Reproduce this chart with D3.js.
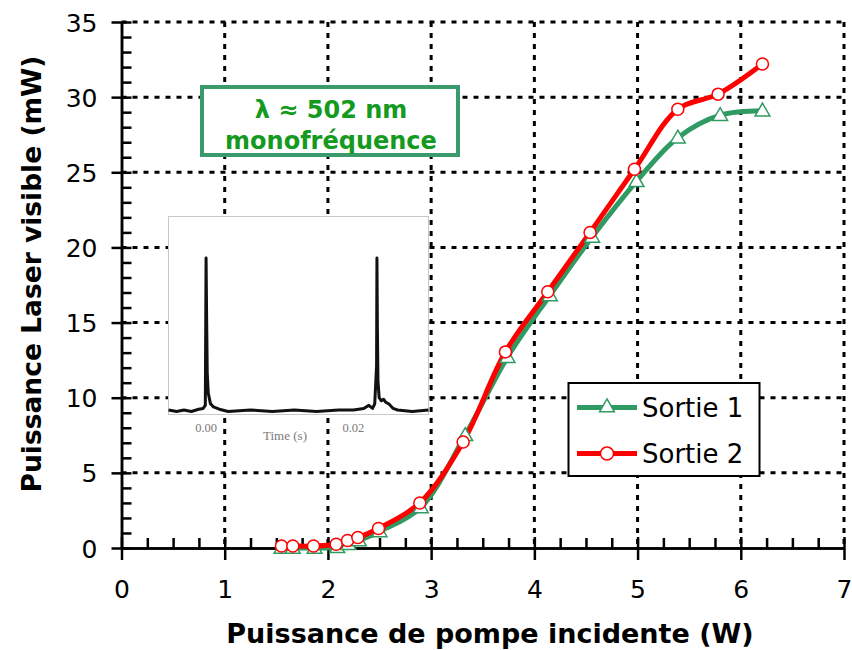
<!DOCTYPE html>
<html>
<head>
<meta charset="utf-8">
<script src="https://cdn.jsdelivr.net/npm/d3@7/dist/d3.min.js"></script>
<style>
  html, body { margin: 0; padding: 0; background: #fff; }
  svg { display: block; }
</style>
</head>
<body>
<svg id="chart" width="852" height="650"></svg>
<script>
// Pump power (W) and visible laser output (mW) for the two outputs
const pumpSortie1 = [1.55, 1.66, 1.87, 2.09, 2.20, 2.30, 2.50, 2.90, 3.33, 3.74, 4.15, 4.56, 4.99, 5.39, 5.80, 6.21];
const powerSortie1 = [0.0, 0.0, 0.0, 0.05, 0.25, 0.5, 1.1, 2.7, 7.5, 12.7, 16.8, 20.7, 24.4, 27.3, 28.8, 29.1];
const pumpSortie2 = [1.55, 1.66, 1.86, 2.08, 2.19, 2.29, 2.49, 2.89, 3.31, 3.72, 4.13, 4.54, 4.97, 5.39, 5.78, 6.21];
const powerSortie2 = [0.13, 0.13, 0.13, 0.25, 0.5, 0.7, 1.3, 3.0, 7.05, 13.05, 17.05, 21.0, 25.2, 29.2, 30.2, 32.2];

const seriesNames = ["Sortie 1", "Sortie 2"];
const xTicks = [0, 1, 2, 3, 4, 5, 6, 7];
const yTicks = [0, 5, 10, 15, 20, 25, 30, 35];

// Oscilloscope trace shown in the inset (time in s, normalised amplitude)
const insetTime = [-0.0051, -0.004, -0.003, -0.002, -0.001, -0.0004, -0.0001, 0.0, 0.00008, 0.00016, 0.0003, 0.0006, 0.001, 0.0018, 0.003, 0.006, 0.009, 0.012, 0.015, 0.018, 0.020, 0.0214, 0.0221, 0.0226, 0.0229, 0.02315, 0.0232, 0.02326, 0.02334, 0.0235, 0.0238, 0.0241, 0.0244, 0.0248, 0.0254, 0.026, 0.028, 0.0302];
const insetSignal = [0.01, 0.0, 0.01, 0.0, 0.015, 0.02, 0.04, 1.0, 0.6, 0.25, 0.12, 0.05, 0.03, 0.015, 0.0, 0.01, 0.0, 0.01, 0.0, 0.01, 0.01, 0.02, 0.04, 0.02, 0.05, 0.3, 1.0, 0.55, 0.2, 0.09, 0.07, 0.08, 0.06, 0.05, 0.02, 0.01, 0.0, 0.01];
const insetTicks = [0.0, 0.02];

const colors = { s1: "#2f9a62", s2: "#ff0000" };
const FONT = "'DejaVu Sans', sans-serif";

const svg = d3.select("#chart");

const x = d3.scaleLinear().domain([0, 7]).range([121.5, 844]);
const y = d3.scaleLinear().domain([0, 35]).range([548, 22]);

// ---- dotted grid (includes the top and right frame lines)
const grid = svg.append("g")
  .attr("stroke", "#000")
  .attr("stroke-width", 3)
  .attr("stroke-dasharray", "5 6")
  .attr("fill", "none");
grid.selectAll("line.v").data(xTicks.filter(d => d > 0)).join("line")
  .attr("class", "v")
  .attr("x1", d => x(d)).attr("x2", d => x(d))
  .attr("y1", y(35)).attr("y2", y(0));
grid.selectAll("line.h").data(yTicks.filter(d => d > 0)).join("line")
  .attr("class", "h")
  .attr("x1", x(0)).attr("x2", x(7))
  .attr("y1", d => y(d)).attr("y2", d => y(d));

// ---- axes
const xMinor = d3.range(0, 7.001, 0.25).filter(d => Math.abs(d - Math.round(d)) > 1e-6);
const yMinor = d3.range(0, 35.001, 1).filter(d => d % 5 !== 0);

const xAxisMinor = d3.axisBottom(x).tickValues(xMinor).tickSizeInner(-10).tickSizeOuter(0).tickFormat("");
const xAxisMajor = d3.axisBottom(x).tickValues(xTicks).tickSizeInner(12).tickSizeOuter(0).tickPadding(20)
  .tickFormat(d3.format("d"));
const yAxisMinor = d3.axisLeft(y).tickValues(yMinor).tickSizeInner(-10).tickSizeOuter(0).tickFormat("");
const yAxisMajor = d3.axisLeft(y).tickValues(yTicks).tickSizeInner(10).tickSizeOuter(0).tickPadding(14)
  .tickFormat(d3.format("d"));

function styleAxis(g) {
  g.select(".domain").attr("stroke", "#000").attr("stroke-width", 2.5);
  g.selectAll(".tick line").attr("stroke", "#000").attr("stroke-width", 2.5);
  g.selectAll(".tick text").attr("fill", "#000").attr("font-family", FONT).attr("font-size", 25);
}

svg.append("g").attr("transform", `translate(0,${y(0)})`).call(xAxisMinor).call(styleAxis);
const gx = svg.append("g").attr("transform", `translate(0,${y(0)})`).call(xAxisMajor).call(styleAxis);
gx.selectAll(".tick line").attr("y1", -11);
svg.append("g").attr("transform", `translate(${x(0)},0)`).call(yAxisMinor).call(styleAxis);
const gy = svg.append("g").attr("transform", `translate(${x(0)},0)`).call(yAxisMajor).call(styleAxis);
gy.selectAll(".tick line").attr("x1", 10);
gy.selectAll(".tick text").attr("dy", "0.36em");

// ---- axis titles
svg.append("text")
  .attr("x", 490).attr("y", 643)
  .attr("text-anchor", "middle")
  .attr("font-family", FONT).attr("font-weight", "bold").attr("font-size", 27)
  .text("Puissance de pompe incidente (W)");
svg.append("text")
  .attr("transform", "translate(41,274) rotate(-90)")
  .attr("text-anchor", "middle")
  .attr("font-family", FONT).attr("font-weight", "bold").attr("font-size", 26.5)
  .text("Puissance Laser visible (mW)");

// ---- annotation box
const note = svg.append("g");
note.append("rect")
  .attr("x", 202).attr("y", 87).attr("width", 256).attr("height", 68)
  .attr("fill", "#fff").attr("stroke", "#3a9a6c").attr("stroke-width", 4);
note.append("text")
  .attr("x", 331).attr("y", 118)
  .attr("text-anchor", "middle")
  .attr("font-family", FONT).attr("font-weight", "bold").attr("font-size", 24)
  .attr("fill", "#149a1e")
  .text("λ ≈ 502 nm");
note.append("text")
  .attr("x", 331).attr("y", 149)
  .attr("text-anchor", "middle")
  .attr("font-family", FONT).attr("font-weight", "bold").attr("font-size", 24)
  .attr("fill", "#149a1e")
  .text("monofréquence");

// ---- inset: oscilloscope trace
const inset = svg.append("g");
const ix = d3.scaleLinear().domain([-0.0051, 0.0302]).range([168.5, 428.5]);
const iy = d3.scaleLinear().domain([0, 1]).range([411.5, 258]);
inset.append("rect")
  .attr("x", 168.5).attr("y", 216.5).attr("width", 260).attr("height", 198)
  .attr("fill", "#fff").attr("stroke", "#c8c8c8").attr("stroke-width", 1);
inset.append("path")
  .datum(d3.zip(insetTime, insetSignal))
  .attr("fill", "none").attr("stroke", "#111").attr("stroke-width", 3)
  .attr("stroke-linejoin", "round")
  .attr("d", d3.line().x(d => ix(d[0])).y(d => iy(d[1])));
inset.selectAll("text.tick").data(insetTicks).join("text")
  .attr("class", "tick")
  .attr("x", d => ix(d)).attr("y", 432)
  .attr("text-anchor", "middle")
  .attr("font-family", "'Liberation Serif', serif").attr("font-size", 12.5)
  .attr("fill", "#7a7a7a")
  .text(d => d3.format(".2f")(d));
inset.append("text")
  .attr("x", 285).attr("y", 440)
  .attr("text-anchor", "middle")
  .attr("font-family", "'Liberation Serif', serif").attr("font-size", 13)
  .attr("fill", "#7a7a7a")
  .text("Time (s)");

// ---- legend
const legend = svg.append("g");
legend.append("rect")
  .attr("x", 568.5).attr("y", 383).attr("width", 191).attr("height", 93)
  .attr("fill", "#fff").attr("stroke", "#000").attr("stroke-width", 2);

// ---- curves
const curve = d3.line().curve(d3.curveCatmullRom.alpha(0.5)).x(d => x(d[0])).y(d => y(d[1]));
const s1 = d3.zip(pumpSortie1, powerSortie1);
const s2 = d3.zip(pumpSortie2, powerSortie2);

const tri = d3.symbol().type(d3.symbolTriangle).size(95);

svg.append("path").datum(s1)
  .attr("fill", "none").attr("stroke", colors.s1).attr("stroke-width", 5)
  .attr("d", curve);
svg.append("path").datum(s2)
  .attr("fill", "none").attr("stroke", colors.s2).attr("stroke-width", 5)
  .attr("d", curve);

svg.append("g").selectAll("path").data(s1).join("path")
  .attr("transform", d => `translate(${x(d[0])},${y(d[1]) + 1})`)
  .attr("d", tri)
  .attr("fill", "#fff").attr("stroke", colors.s1).attr("stroke-width", 1.5);
svg.append("g").selectAll("circle").data(s2).join("circle")
  .attr("cx", d => x(d[0])).attr("cy", d => y(d[1])).attr("r", 6)
  .attr("fill", "#fff").attr("stroke", colors.s2).attr("stroke-width", 1.5);

// legend entries
const legendRows = [
  { name: seriesNames[0], color: colors.s1, marker: "tri", yy: 407.5 },
  { name: seriesNames[1], color: colors.s2, marker: "circle", yy: 453.5 }
];
legendRows.forEach(r => {
  legend.append("line")
    .attr("x1", 577).attr("x2", 637).attr("y1", r.yy).attr("y2", r.yy)
    .attr("stroke", r.color).attr("stroke-width", 5);
  if (r.marker === "tri") {
    legend.append("path")
      .attr("transform", `translate(607,${r.yy})`)
      .attr("d", tri)
      .attr("fill", "#fff").attr("stroke", r.color).attr("stroke-width", 1.5);
  } else {
    legend.append("circle")
      .attr("cx", 607).attr("cy", r.yy).attr("r", 6.5)
      .attr("fill", "#fff").attr("stroke", r.color).attr("stroke-width", 1.5);
  }
  legend.append("text")
    .attr("x", 642).attr("y", r.yy + 9.5)
    .attr("font-family", FONT).attr("font-size", 26)
    .attr("fill", "#000")
    .text(r.name);
});
</script>
</body>
</html>
